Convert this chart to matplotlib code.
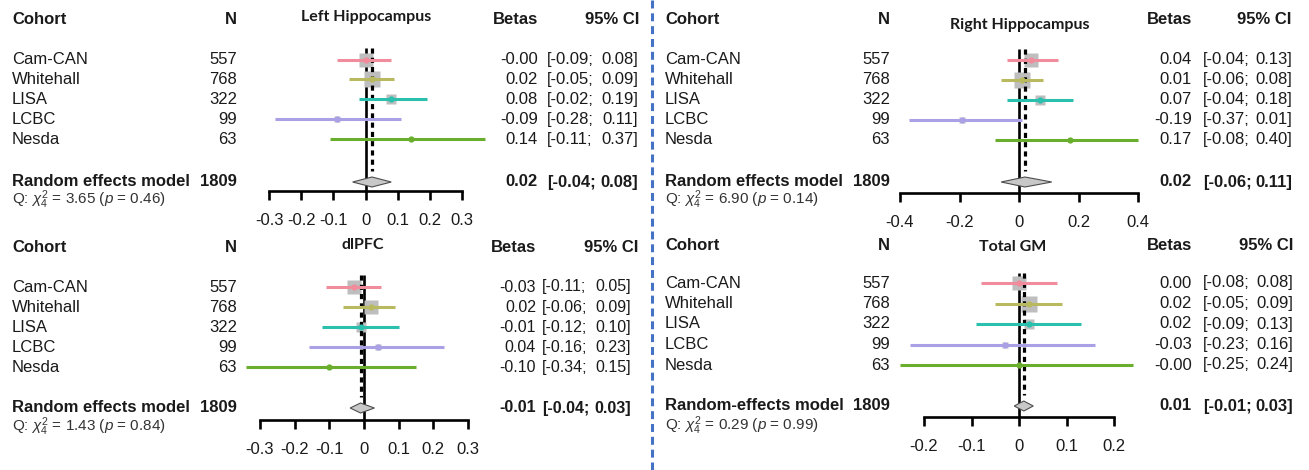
import numpy as np
import matplotlib
matplotlib.use("Agg")
import matplotlib.pyplot as plt
from matplotlib.patches import Polygon

plt.rcParams['font.family'] = ['Liberation Sans', 'DejaVu Sans']
plt.rcParams['axes.unicode_minus'] = False
plt.rcParams['mathtext.fontset'] = 'custom'
plt.rcParams['mathtext.rm'] = 'Liberation Sans'
plt.rcParams['mathtext.it'] = 'Liberation Sans:italic'

W, H = 1309, 470

# --- data ---------------------------------------------------------------
cohorts = ["Cam-CAN", "Whitehall", "LISA", "LCBC", "Nesda"]
n_subj = [557, 768, 322, 99, 63]
n_total = 1809
cohort_colors = ["#f08c9b", "#b9b95f", "#2bbfae", "#aaa0e6", "#69af2d"]

titles = ["Left Hippocampus", "Right Hippocampus", "dlPFC", "Total GM"]
re_labels = ["Random effects model", "Random effects model",
             "Random effects model", "Random-effects model"]

betas = [
    [-0.00, 0.02, 0.08, -0.09, 0.14],
    [0.04, 0.01, 0.07, -0.19, 0.17],
    [-0.03, 0.02, -0.01, 0.04, -0.10],
    [0.00, 0.02, 0.02, -0.03, -0.00],
]
ci_low = [
    [-0.09, -0.05, -0.02, -0.28, -0.11],
    [-0.04, -0.06, -0.04, -0.37, -0.08],
    [-0.11, -0.06, -0.12, -0.16, -0.34],
    [-0.08, -0.05, -0.09, -0.23, -0.25],
]
ci_high = [
    [0.08, 0.09, 0.19, 0.11, 0.37],
    [0.13, 0.08, 0.18, 0.01, 0.40],
    [0.05, 0.09, 0.10, 0.23, 0.15],
    [0.08, 0.09, 0.13, 0.16, 0.24],
]
re_beta = [0.02, 0.02, -0.01, 0.01]
re_low = [-0.04, -0.06, -0.04, -0.01]
re_high = [0.08, 0.11, 0.03, 0.03]
q_stat = [3.65, 6.90, 1.43, 0.29]
q_p = [0.46, 0.14, 0.84, 0.99]
q_df = 4

tick_values = [
    [-0.3, -0.2, -0.1, 0, 0.1, 0.2, 0.3],
    [-0.4, -0.2, 0, 0.2, 0.4],
    [-0.3, -0.2, -0.1, 0, 0.1, 0.2, 0.3],
    [-0.2, -0.1, 0, 0.1, 0.2],
]

# --- layout of each panel, in pixels --------------------------------------
panels = [
    dict(xc=12, xn=237, xb=538, xcil=547, xci=638, xcih=639, fsv=12,
         ax0=269, ax1=462, y0=59.5, step=19.9, yre=182, yq=200, yax=191,
         yhead=19, ytitle=17, xtitle=366, ytop=48),
    dict(xc=665, xn=890, xb=1192, xcil=1203, xci=1292, xcih=1291, fsv=12,
         ax0=900, ax1=1138, y0=59.5, step=20.1, yre=182, yq=200, yax=193,
         yhead=20, ytitle=25, xtitle=1020, ytop=49),
    dict(xc=12, xn=237, xb=536, xcil=542, xci=631, xcih=638, fsv=11.5,
         ax0=260, ax1=468, y0=287, step=20.1, yre=408, yq=427, yax=420,
         yhead=247, ytitle=245, xtitle=363, ytop=275),
    dict(xc=665, xn=890, xb=1192, xcil=1203, xci=1293, xcih=1293, fsv=12,
         ax0=924, ax1=1114, y0=283, step=20.5, yre=406, yq=426, yax=417,
         yhead=245, ytitle=247, xtitle=1013, ytop=273),
]

fig = plt.figure(figsize=(W / 100, H / 100), dpi=100)
fig.patch.set_facecolor("white")

# full-figure axes working in pixel units, used for all the text
base = fig.add_axes([0, 0, 1, 1])
base.set_xlim(0, W)
base.set_ylim(H, 0)
base.axis("off")

txt_col = "#1a1a1a"
fs = 12


def tick_label(v):
    if v == 0:
        return "0"
    return f"{v:g}"


def ci_text(p, y, lo, hi, **kw):
    # lower bound left-justified, upper bound right-justified
    base.text(p["xcil"], y, f"[{lo:.2f};", ha="left", va="center",
              fontsize=p["fsv"], color=txt_col, **kw)
    base.text(p["xci"], y, f"{hi:.2f}]", ha="right", va="center",
              fontsize=p["fsv"], color=txt_col, **kw)


for k, p in enumerate(panels):
    lim = max(abs(t) for t in tick_values[k])
    ax = fig.add_axes([p["ax0"] / W, 0, (p["ax1"] - p["ax0"]) / W, 1])
    ax.set_xlim(-lim, lim)
    ax.set_ylim(H, 0)
    ax.patch.set_alpha(0)
    for s in ["top", "left", "right"]:
        ax.spines[s].set_visible(False)
    ax.spines["bottom"].set_position(("data", p["yax"]))
    ax.spines["bottom"].set_bounds(-lim, lim)
    ax.spines["bottom"].set_linewidth(1.9)
    ax.set_yticks([])
    ax.set_xticks(tick_values[k])
    ax.set_xticklabels([tick_label(t) for t in tick_values[k]], fontsize=fs,
                       color=txt_col)
    ax.tick_params(axis="x", direction="out", length=6.5, width=1.9, pad=9)

    rows = [p["y0"] + i * p["step"] for i in range(len(cohorts))]

    # reference line at zero and dotted line at the pooled estimate
    ax.plot([0, 0], [p["ytop"], p["yax"]], color="black", lw=1.9, zorder=1,
            clip_on=False, solid_capstyle="butt")
    ax.plot([re_beta[k], re_beta[k]], [p["ytop"], p["yre"] - 11], color="black",
            lw=2.3, linestyle=(0, (1.6, 1.3)), zorder=3, clip_on=False)

    for i in range(len(cohorts)):
        lo, hi, b = ci_low[k][i], ci_high[k][i], betas[k][i]
        size = 1.61 / (hi - lo)
        ax.plot(b, rows[i], marker="s", ms=size, color="#bebebe", mec="none",
                zorder=2, clip_on=False)
        ax.plot([lo, hi], [rows[i], rows[i]], color=cohort_colors[i], lw=2.2,
                zorder=4, clip_on=False, solid_capstyle="butt")
        ax.plot(b, rows[i], marker="o", ms=4.5, color=cohort_colors[i],
                mec="none", zorder=5, clip_on=False)

    # pooled estimate diamond
    yre = p["yre"]
    dia = Polygon([(re_low[k], yre), (re_beta[k], yre - 5),
                   (re_high[k], yre), (re_beta[k], yre + 5)],
                  closed=True, facecolor="#c8c8c8", edgecolor="#4d4d4d",
                  lw=0.8, zorder=6, clip_on=False)
    ax.add_patch(dia)

    # text columns
    base.text(p["xc"], p["yhead"], "Cohort", fontsize=fs, fontweight="bold",
              ha="left", va="center", color=txt_col)
    base.text(p["xn"], p["yhead"], "N", fontsize=fs, fontweight="bold",
              ha="right", va="center", color=txt_col)
    base.text(p["xb"], p["yhead"], "Betas", fontsize=fs, fontweight="bold",
              ha="right", va="center", color=txt_col)
    base.text(p["xcih"], p["yhead"], "95% CI", fontsize=fs, fontweight="bold",
              ha="right", va="center", color=txt_col)
    base.text(p["xtitle"], p["ytitle"], titles[k], fontsize=11.5,
              fontweight="bold", family=["Lato", "DejaVu Sans"],
              ha="center", va="center", color=txt_col)

    for i in range(len(cohorts)):
        base.text(p["xc"], rows[i], cohorts[i], fontsize=fs, ha="left",
                  va="center", color=txt_col)
        base.text(p["xn"], rows[i], str(n_subj[i]), fontsize=fs, ha="right",
                  va="center", color=txt_col)
        base.text(p["xb"], rows[i], f"{betas[k][i]:.2f}", fontsize=p["fsv"],
                  ha="right", va="center", color=txt_col)
        ci_text(p, rows[i], ci_low[k][i], ci_high[k][i])

    base.text(p["xc"], yre, re_labels[k], fontsize=fs, fontweight="bold",
              ha="left", va="center", color=txt_col)
    base.text(p["xn"], yre, str(n_total), fontsize=fs, fontweight="bold",
              ha="right", va="center", color=txt_col)
    base.text(p["xb"], yre, f"{re_beta[k]:.2f}", fontsize=p["fsv"],
              fontweight="bold", ha="right", va="center", color=txt_col)
    ci_text(p, yre, re_low[k], re_high[k], fontweight="bold")
    base.text(p["xc"], p["yq"],
              rf"Q: $\chi^2_{q_df}$ = {q_stat[k]:.2f} ($p$ = {q_p[k]:.2f})",
              fontsize=11, ha="left", va="center", color="#333333")

# dashed divider between the left and right columns
base.plot([652, 652], [0, H], color="#4472c4", lw=2.2,
          linestyle=(0, (2.6, 1.6)), solid_capstyle="butt")

fig.savefig("out.png", dpi=100, facecolor="white")
